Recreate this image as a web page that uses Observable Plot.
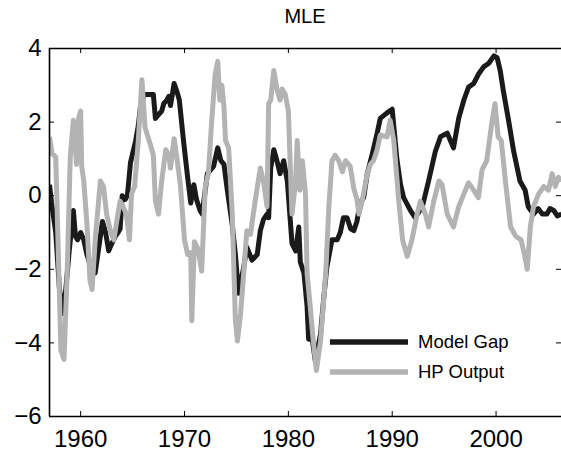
<!DOCTYPE html>
<html><head><meta charset="utf-8">
<script src="https://cdn.jsdelivr.net/npm/d3@7"></script>
<script src="https://cdn.jsdelivr.net/npm/@observablehq/plot@0.6"></script>
<style>
body{margin:0;background:#fff;font-family:Arial,"Liberation Sans",Helvetica,sans-serif;}
#wrap{position:relative;width:561px;height:458px;overflow:hidden;background:#fff}
#title{position:absolute;left:49px;width:512px;top:5px;text-align:center;font-size:20px;color:#000;z-index:2}
#legend{position:absolute;left:0;top:0;z-index:2}
</style></head><body><div id="wrap"><div id="title">MLE</div></div>
<script>
const seriesNames = ["Model Gap", "HP Output"];
const xTicks = [1960, 1970, 1980, 1990, 2000];
const yTicks = [-6, -4, -2, 0, 2, 4];

const gapYears = [1957.0,1957.2,1957.6,1957.95,1958.25,1958.55,1958.9,1959.3,1959.5,1959.7,1960.0,1960.3,1960.6,1960.95,1961.4,1961.7,1962.1,1962.4,1962.7,1963.0,1963.35,1963.6,1963.8,1964.0,1964.3,1964.5,1964.8,1965.3,1965.55,1965.75,1966.1,1966.5,1967.0,1967.2,1967.5,1967.8,1968.0,1968.3,1968.5,1968.65,1969.0,1969.3,1969.5,1969.9,1970.3,1970.6,1970.9,1971.15,1971.5,1971.7,1972.2,1972.5,1972.8,1973.2,1973.5,1973.8,1974.1,1974.6,1974.9,1975.2,1975.7,1976.0,1976.5,1977.0,1977.3,1977.6,1977.95,1978.1,1978.3,1978.6,1978.9,1979.2,1979.55,1979.9,1980.35,1980.7,1981.0,1981.15,1981.5,1981.8,1981.95,1982.3,1982.6,1983.1,1983.4,1983.7,1984.2,1984.7,1985.0,1985.3,1985.65,1986.0,1986.3,1986.6,1986.9,1987.25,1987.6,1988.05,1988.55,1988.85,1989.5,1990.0,1990.45,1990.8,1991.1,1991.75,1992.2,1992.9,1993.5,1994.15,1994.65,1995.3,1995.6,1995.9,1996.4,1996.9,1997.35,1997.85,1998.3,1998.8,1999.3,1999.55,1999.8,2000.1,2000.4,2000.7,2001.2,2001.7,2002.3,2002.8,2003.1,2003.6,2004.05,2004.45,2004.9,2005.2,2005.55,2005.9,2006.3];
const gapValues = [0.3,-0.2,-1.0,-2.5,-3.2,-2.6,-1.5,-0.4,-1.1,-1.2,-1.0,-1.2,-1.6,-1.9,-2.1,-1.5,-0.7,-1.0,-1.5,-1.3,-1.1,-1.0,-0.9,0.0,-0.1,0.0,0.9,1.5,1.9,2.4,2.75,2.75,2.75,2.1,2.2,2.3,2.5,2.6,2.7,2.45,3.05,2.8,2.6,1.5,0.5,-0.2,0.3,-0.1,-0.4,-0.5,0.6,0.7,0.8,1.3,0.95,0.85,0.2,-0.8,-1.6,-2.65,-1.95,-1.4,-1.75,-1.6,-0.95,-0.65,-0.5,-0.6,0.75,1.25,0.95,0.6,0.95,0.4,-1.3,-1.5,-0.85,-1.8,-2.1,-3.0,-3.9,-3.9,-4.5,-3.75,-2.8,-1.95,-1.2,-1.2,-1.0,-0.6,-0.6,-0.9,-0.95,-0.7,-0.2,-0.05,0.6,1.1,1.7,2.1,2.25,2.35,1.0,0.3,-0.05,-0.4,-0.6,-0.3,0.4,1.2,1.6,1.7,1.5,1.3,2.1,2.6,2.95,3.05,3.3,3.5,3.6,3.7,3.8,3.75,3.4,2.85,2.05,1.2,0.4,0.15,-0.3,-0.5,-0.35,-0.5,-0.5,-0.35,-0.4,-0.55,-0.5];

const hpYears = [1957.0,1957.25,1957.6,1957.9,1958.1,1958.4,1958.7,1959.0,1959.3,1959.6,1959.8,1960.0,1960.1,1960.3,1960.6,1960.9,1961.1,1961.4,1961.9,1962.2,1962.5,1962.9,1963.2,1963.5,1963.8,1964.1,1964.4,1964.7,1964.9,1965.2,1965.55,1965.9,1966.2,1966.7,1967.0,1967.2,1967.5,1967.8,1968.2,1968.5,1968.65,1969.0,1969.3,1969.6,1970.0,1970.3,1970.6,1970.7,1970.95,1971.3,1971.65,1972.0,1972.3,1972.6,1972.95,1973.2,1973.4,1973.6,1973.8,1973.95,1974.25,1974.6,1974.9,1975.1,1975.4,1975.7,1976.0,1976.35,1976.8,1977.3,1977.6,1977.95,1978.1,1978.3,1978.6,1978.9,1979.2,1979.4,1979.7,1980.0,1980.35,1980.7,1980.85,1981.1,1981.35,1981.65,1981.8,1982.1,1982.4,1982.7,1983.1,1983.6,1983.9,1984.2,1984.5,1984.85,1985.2,1985.5,1985.95,1986.3,1986.6,1986.8,1987.1,1987.6,1987.9,1988.2,1988.55,1988.85,1989.5,1989.8,1990.15,1990.6,1991.0,1991.45,1991.9,1992.4,1992.7,1993.2,1993.5,1994.0,1994.5,1994.8,1995.3,1995.9,1996.4,1996.9,1997.35,1997.85,1998.3,1998.65,1999.1,1999.6,1999.9,2000.2,2000.5,2000.9,2001.4,2001.9,2002.4,2002.7,2003.0,2003.3,2003.6,2004.1,2004.6,2005.05,2005.4,2005.7,2006.0,2006.3];
const hpValues = [1.6,1.15,1.05,-2.1,-4.2,-4.45,-2.1,1.05,2.05,0.85,2.1,2.3,0.8,0.4,-0.75,-2.3,-2.55,-1.2,0.4,0.25,-0.5,-1.0,-1.2,-0.65,-0.15,-0.3,-0.5,-1.2,0.05,0.25,1.5,3.15,1.85,1.4,1.1,-0.15,-0.5,0.4,1.25,1.1,0.75,1.55,0.95,0.3,-1.2,-1.6,-1.55,-3.4,-1.25,-1.45,-2.05,0.25,0.6,1.95,3.3,3.65,2.6,3.0,2.4,1.5,1.3,-0.5,-3.4,-3.95,-3.2,-2.1,-0.95,-1.05,-0.15,0.75,0.4,-0.3,2.5,2.6,3.4,2.9,2.6,2.9,2.75,2.3,-0.5,0.4,1.5,0.15,0.95,0.05,-2.1,-3.0,-3.95,-4.75,-3.95,-2.1,-0.3,0.95,1.1,0.95,0.65,0.95,0.8,0.2,-0.1,-0.5,-0.15,0.6,0.85,0.95,1.25,1.65,1.6,2.05,1.5,-0.05,-1.2,-1.65,-1.2,-0.5,-0.15,-0.5,-0.85,-0.15,0.4,0.3,-0.5,-0.85,-0.3,0.05,0.35,0.15,-0.05,0.7,0.95,2.0,2.5,1.6,1.5,0.4,-0.85,-1.1,-1.2,-1.55,-2.0,-0.85,-0.3,0.05,0.25,0.15,0.6,0.25,0.5,0.4];

const gapData = gapYears.map((t, i) => ({t, v: gapValues[i], s: seriesNames[0]}));
const hpData = hpYears.map((t, i) => ({t, v: hpValues[i], s: seriesNames[1]}));

const W = 561, H = 458, mL = 49, mR = 0, mT = 48, mB = 42;
const innerW = W - mL - mR, innerH = H - mT - mB;
const tick = 5;
const font = "Arial, 'Liberation Sans', Helvetica, sans-serif";
const colors = {"Model Gap": "#1a1a1a", "HP Output": "#b3b3b3"};

const chart = Plot.plot({
  width: W, height: H,
  marginLeft: mL, marginRight: mR, marginTop: mT, marginBottom: mB,
  style: {fontFamily: font, background: "#fff", color: "#000"},
  x: {domain: [1957, 2006.3]},
  y: {domain: [-6, 4]},
  marks: [
    Plot.line(gapData, {x: "t", y: "v", stroke: colors["Model Gap"], strokeWidth: 5, strokeLinejoin: "round", strokeLinecap: "butt", clip: true}),
    Plot.line(hpData, {x: "t", y: "v", stroke: colors["HP Output"], strokeWidth: 5, strokeLinejoin: "round", strokeLinecap: "butt", clip: true}),
    Plot.ruleX([1957], {stroke: "#000", strokeWidth: 1.6}),
    Plot.ruleY([-6], {stroke: "#000", strokeWidth: 1.6}),
    Plot.ruleY([4], {stroke: "#000", strokeWidth: 1.6}),
    Plot.tickX(xTicks, {x: d => d, stroke: "#000", strokeWidth: 1, insetTop: innerH - tick}),
    Plot.tickX(xTicks, {x: d => d, stroke: "#000", strokeWidth: 1, insetBottom: innerH - tick}),
    Plot.tickY(yTicks, {y: d => d, stroke: "#000", strokeWidth: 1, insetRight: innerW - tick}),
    Plot.tickY(yTicks, {y: d => d, stroke: "#000", strokeWidth: 1, insetLeft: innerW - tick}),
    Plot.axisX(xTicks, {tickSize: 0, tickPadding: 13, fontSize: 24, tickFormat: d => String(d), label: null}),
    Plot.axisY(yTicks, {tickSize: 0, tickPadding: 8, fontSize: 24, label: null})
  ]
});
const wrap = document.getElementById("wrap");
wrap.appendChild(chart);

// legend
const ns = "http://www.w3.org/2000/svg";
const leg = document.createElementNS(ns, "svg");
leg.setAttribute("id", "legend");
leg.setAttribute("width", W); leg.setAttribute("height", H);
const legendRows = [{name: seriesNames[0], y: 342}, {name: seriesNames[1], y: 372}];
legendRows.forEach(r => {
  const ln = document.createElementNS(ns, "line");
  ln.setAttribute("x1", 330); ln.setAttribute("x2", 408);
  ln.setAttribute("y1", r.y); ln.setAttribute("y2", r.y);
  ln.setAttribute("stroke", colors[r.name]); ln.setAttribute("stroke-width", 5.5);
  leg.appendChild(ln);
  const tx = document.createElementNS(ns, "text");
  tx.setAttribute("x", 418); tx.setAttribute("y", r.y);
  tx.setAttribute("dy", "0.35em");
  tx.setAttribute("font-size", 18.5);
  tx.setAttribute("font-family", font);
  tx.setAttribute("fill", "#000");
  tx.textContent = r.name;
  leg.appendChild(tx);
});
wrap.appendChild(leg);
</script>
</body></html>
